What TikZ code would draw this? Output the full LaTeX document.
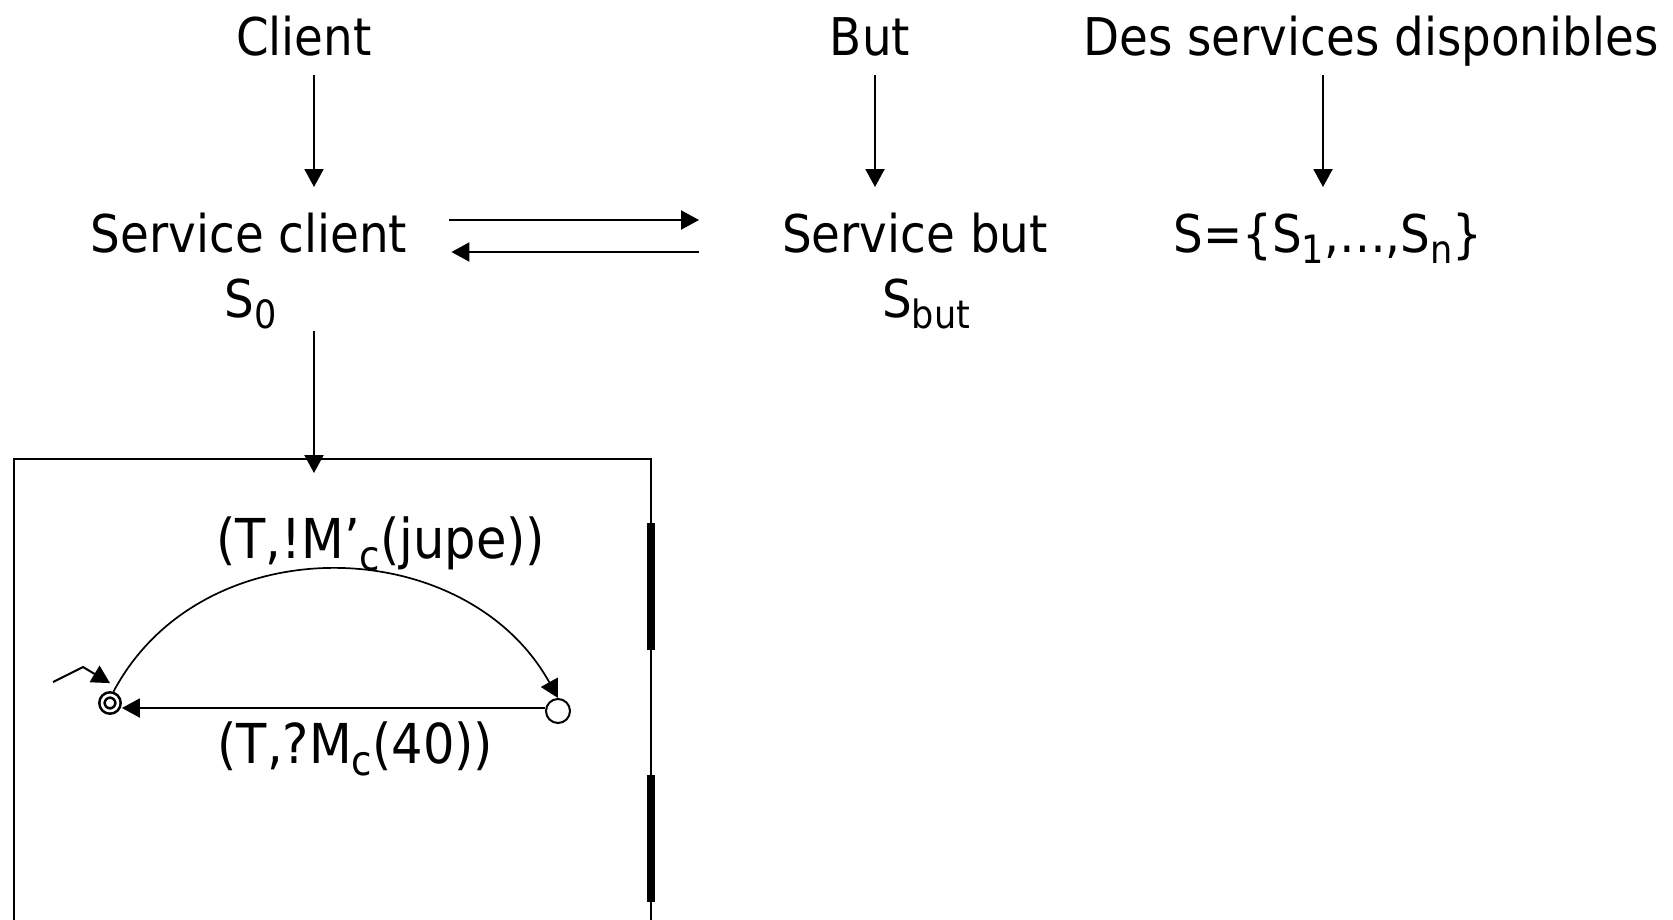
\documentclass[tikz,border=0pt]{standalone}
\usepackage{fontspec}
\setmainfont[FakeStretch=0.9]{DejaVu Sans}
\usetikzlibrary{arrows.meta}
\newcommand{\lowsub}[1]{\raisebox{-0.22em}{\fontsize{0.75\dimexpr\fontdimen6\font\relax}{0pt}\selectfont #1}}

\begin{document}
\begin{tikzpicture}[x=1pt,y=-1pt,
	every node/.style={inner sep=0pt,anchor=base,font=\fontsize{52}{60}\selectfont},
	arr/.style={-{Triangle[length=18pt,width=19pt]},line width=2pt},
	lbl/.style={font=\fontsize{55}{60}\selectfont},
	state/.style={draw,circle,anchor=center,line width=2pt,minimum size=24pt},
	accept/.style={state,line width=2.6pt,double,double distance=2.6pt,minimum size=16pt,outer sep=3.9pt}]
	\useasboundingbox (0,0) rectangle (1673,919);
	\fill[white] (0,0) rectangle (1673,919);
	\clip (0,0) rectangle (1673,919);
					\node (client) at (304,55) {Client};
					\node (but) at (870,55) {But};
					\node (dispo) at (1371,55) {Des services disponibles};
					\node (sc) at (249,252) {Service client};
					\node (s0) at (251,317) {S\lowsub{0}};
					\node (sb) at (915,252) {Service but};
					\node (sbut) at (926,317) {S\lowsub{but}};
					\node (sset) at (1328,252) {S=\{S\lowsub{1},…,S\lowsub{n}\}};
					\node[draw,line width=2pt,anchor=north west,outer sep=0pt,minimum width=637pt,minimum height=520pt] (box) at (14,459) {};
					\node[accept] (q0) at (110,703) {};
					\node[state] (q1) at (558,711) {};
					\coordinate (init) at (53,682);
					\draw[arr] ([shift={(10,20)}]client.base) to ([shift={(65,-65)}]sc.base);
					\draw[arr] ([shift={(5,20)}]but.base) to ([shift={(-40,-65)}]sb.base);
					\draw[arr] ([shift={(-48,20)}]dispo.base) to ([shift={(-5,-65)}]sset.base);
					\draw[arr] ([shift={(42,-32)}]sc.base east) to ([shift={(-83,-32)}]sb.base west);
					\draw[arr] ([shift={(-83,0)}]sb.base west) to ([shift={(44,0)}]sc.base east);
					\draw[arr] ([shift={(63,14)}]s0.base) to ([shift={(63,14)}]s0.base |- box.north);
					\foreach \a/\b in {64/191,316/443}
						\draw[line width=8pt] ([yshift=-\a pt]box.north east) -- ([yshift=-\b pt]box.north east);
					\draw[arr] (init) -- ++(30,-15) -- ([yshift=8pt]q0.north);
					\draw[arr,line width=1.7pt] (q0.73) to[out=62,in=119,looseness=1.09] node[lbl,pos=0.5,xshift=46pt,yshift=11pt] {(T,!M’\lowsub{c}(jupe))} (q1.north);
					\draw[arr] ([yshift=3pt]q1.west) to node[lbl,pos=0.5,xshift=22pt,yshift=-55pt] {(T,?M\lowsub{c}(40))} ([yshift=3pt]q1.west -| q0.east);
				\end{tikzpicture}
\end{document}
